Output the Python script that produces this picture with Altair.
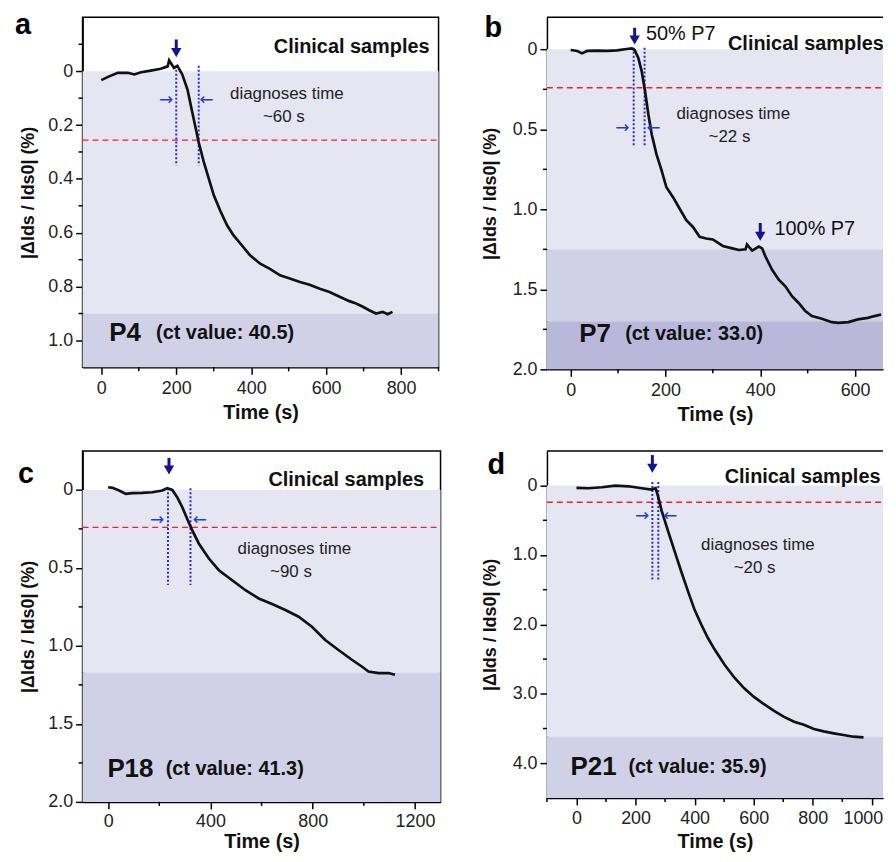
import altair as alt
import pandas as pd

FONT = "Liberation Sans"
YTITLE = "|ΔIds / Ids0| (%)"

# ---------------- panel a ----------------
a_time = [0, 18, 44, 71, 88, 106, 132, 159, 177, 181, 194, 203, 216, 230, 243, 260, 274, 287, 300, 318,
          336, 353, 371, 397, 424, 450, 477, 503, 530, 556, 583, 609, 636, 662, 680, 698, 715, 733, 751, 764, 777]
a_val = [0.033, 0.021, 0.006, 0.006, 0.012, 0.004, -0.002, -0.009, -0.018, -0.04, -0.012, -0.02, 0.012, 0.068,
         0.154, 0.265, 0.34, 0.40, 0.46, 0.52, 0.573, 0.61, 0.64, 0.684, 0.715, 0.734, 0.758, 0.77, 0.783, 0.793,
         0.808, 0.82, 0.838, 0.854, 0.863, 0.875, 0.888, 0.9, 0.894, 0.903, 0.894]

# ---------------- panel b ----------------
b_time = [0, 14, 24, 35, 56, 77, 98, 118, 129, 135, 143, 150, 157, 164, 171, 181, 192, 202, 216, 230, 244, 258,
          272, 286, 300, 321, 341, 355, 369, 372, 383, 397, 404, 411, 425, 439, 453, 467, 481, 495, 509, 530, 551,
          565, 586, 606, 627, 641, 655]
b_val = [0.004, 0.01, 0.025, 0.01, 0.008, 0.01, 0.006, -0.002, -0.006, 0.004, 0.056, 0.138, 0.262, 0.407, 0.531,
         0.655, 0.758, 0.862, 0.924, 0.996, 1.068, 1.11, 1.171, 1.182, 1.188, 1.229, 1.244, 1.254, 1.25, 1.22,
         1.258, 1.233, 1.244, 1.295, 1.378, 1.44, 1.481, 1.543, 1.585, 1.636, 1.667, 1.684, 1.705, 1.709, 1.705,
         1.688, 1.678, 1.667, 1.657]

# ---------------- panel c ----------------
c_time = [0, 17, 43, 69, 95, 134, 173, 212, 231, 251, 270, 290, 309, 329, 355, 394, 433, 485, 537, 589, 641,
          693, 745, 797, 849, 901, 953, 992, 1018, 1057, 1096, 1122]
c_val = [-0.017, -0.013, 0.004, 0.026, 0.021, 0.019, 0.015, 0.004, -0.011, 0.0, 0.047, 0.111, 0.185, 0.26, 0.345,
         0.44, 0.515, 0.579, 0.643, 0.696, 0.732, 0.77, 0.813, 0.877, 0.962, 1.026, 1.089, 1.132, 1.164, 1.174,
         1.174, 1.185]

# ---------------- panel d ----------------
d_time = [0, 41, 86, 131, 176, 221, 254, 268, 277, 288, 311, 333, 355, 378, 400, 423, 445, 468, 501, 535, 568,
          601, 635, 669, 703, 737, 770, 804, 837, 871, 904, 938, 972]
d_val = [0.033, 0.038, 0.024, 0.0, 0.01, 0.038, 0.057, 0.038, 0.167, 0.358, 0.668, 0.955, 1.241, 1.527, 1.79,
         2.005, 2.196, 2.363, 2.578, 2.768, 2.921, 3.045, 3.15, 3.246, 3.332, 3.403, 3.446, 3.508, 3.542, 3.57,
         3.594, 3.618, 3.628]

# shaded bands (value ranges) and their colours
a_bands = [(0.0, 0.9), (0.9, 1.1)]
b_bands = [(0.0, 1.25), (1.25, 1.7), (1.7, 2.0)]
c_bands = [(0.0, 1.17), (1.17, 2.0)]
d_bands = [(0.0, 3.62), (3.62, 4.5)]
band_colors = ["#E6E6F2", "#D0D0E6", "#B9B8DB"]

# thresholds (red dashed) and detection windows (blue dotted)
thresholds = {"a": 0.256, "b": 0.24, "c": 0.24, "d": 0.24}
windows = {"a": (200, 260), "b": (133, 156), "c": (234, 322), "d": (257, 277)}

# injection arrows: (time, top, shaft end, head centre)
a_inject = [(200, -0.118, -0.078, -0.069)]
b_inject = [(135, -0.135, -0.068, -0.058), (400, 1.085, 1.155, 1.168)]
c_inject = [(238, -0.205, -0.142, -0.128)]
d_inject = [(257, -0.44, -0.285, -0.25)]

diag_text = {"a": "~60 s", "b": "~22 s", "c": "~90 s", "d": "~20 s"}
patients = {"a": ("P4", "(ct value: 40.5)"), "b": ("P7", "(ct value: 33.0)"),
            "c": ("P18", "(ct value: 41.3)"), "d": ("P21", "(ct value: 35.9)")}


def one(**kw):
    return pd.DataFrame({k: [v] for k, v in kw.items()})


def panel(key, t, v, W, H, xdom, ydom, xmaj, xmin, ymaj, ymin, bands, win_span, arr_v, arr_t,
          inject, clin, diag_pos, pat_pos, letter_xy, closed=True, ytpad=10, extra=None,
          xlp=5, xtp=5, last_flush=None):
    xs = alt.Scale(domain=xdom, nice=False, zero=False)
    ys = alt.Scale(domain=ydom, reverse=True, nice=False, zero=False)
    xkw = dict(values=xmaj, title="Time (s)", format="d", grid=False, labelPadding=xlp, titlePadding=xtp)
    if last_flush is not None:
        test = "datum.value == %d" % last_flush
        xkw["labelAlign"] = {"condition": {"test": test, "value": "right"}, "value": "center"}
        xkw["labelOffset"] = {"condition": {"test": test, "value": 11}, "value": 0}
    xax = alt.Axis(**xkw)
    yax = alt.Axis(values=ymaj, title=YTITLE, grid=False, labelPadding=3, titlePadding=ytpad,
                   titleFontSize=18,
                   labelExpr="datum.value == 0 ? '0' : format(datum.value, '.1f')")

    def X(f):
        return alt.X(f, scale=xs, axis=xax)

    def Y(f):
        return alt.Y(f, scale=ys, axis=yax)

    def txt(tt, vv, s, size, weight="normal", align="left", color="#111", font=FONT, clip=False):
        df = pd.DataFrame({"t": tt, "v": vv, "s": s})
        return alt.Chart(df).mark_text(fontSize=size, fontWeight=weight, align=align, baseline="middle",
                                       font=font, color=color, clip=clip).encode(
            x=X("t:Q"), y=Y("v:Q"), text="s:N")

    layers = []
    cols = band_colors if len(bands) == 3 else band_colors[:2]
    bdf = pd.DataFrame({"v": [b[0] for b in bands], "v1": [b[1] for b in bands], "c": cols})
    layers.append(alt.Chart(bdf).mark_rect().encode(
        y=Y("v:Q"), y2="v1:Q", x=alt.value(0), x2=alt.value(W), color=alt.Color("c:N", scale=None)))
    cdf = pd.DataFrame({"t": t, "v": v})
    curve = alt.Chart(cdf).mark_line(color="#111", strokeWidth=2.7).encode(x=X("t:Q"), y=Y("v:Q"))
    # minor ticks
    layers.append(alt.Chart(pd.DataFrame({"v": ymin})).mark_rule(color="black", strokeWidth=1.5).encode(
        y=Y("v:Q"), x=alt.value(-4), x2=alt.value(0)))
    layers.append(alt.Chart(pd.DataFrame({"t": xmin})).mark_rule(color="black", strokeWidth=1.5).encode(
        x=X("t:Q"), y=alt.value(H), y2=alt.value(H + 4)))
    # threshold
    layers.append(alt.Chart(one(v=thresholds[key])).mark_rule(color="#E8262A", strokeWidth=1.3,
                                                               strokeDash=[6, 4]).encode(
        y=Y("v:Q"), x=alt.value(0), x2=alt.value(W)))
    # window lines
    w0, w1 = windows[key]
    wdf = pd.DataFrame({"t": [w0, w1], "v": [win_span[0]] * 2, "v1": [win_span[1]] * 2})
    layers.append(alt.Chart(wdf).mark_rule(color="#1F2FE0", strokeWidth=2, strokeDash=[2, 2]).encode(
        x=X("t:Q"), y=Y("v:Q"), y2="v1:Q"))
    if not closed:
        layers.append(alt.Chart(one(a=1)).mark_rule(color="black", strokeWidth=1.5).encode(
            x=alt.value(0), x2=alt.value(W), y=alt.value(0)))
    layers.append(curve)
    # horizontal arrows
    layers.append(txt(arr_t, [arr_v, arr_v], ["→", "←"], 17, align="center", color="#1F3FD0",
                      font="DejaVu Sans"))
    # injection arrows (shaft + head)
    idf = pd.DataFrame({"t": [p[0] for p in inject], "v": [p[1] for p in inject],
                        "v1": [p[2] for p in inject], "vh": [p[3] for p in inject]})
    layers.append(alt.Chart(idf).mark_rule(color="#14148C", strokeWidth=3).encode(
        x=X("t:Q"), y=Y("v:Q"), y2="v1:Q"))
    layers.append(alt.Chart(idf).mark_point(shape="triangle-down", filled=True, size=110, opacity=1,
                                            color="#14148C").encode(x=X("t:Q"), y=Y("vh:Q")))
    # texts
    layers.append(txt([clin[0]], [clin[1]], ["Clinical samples"], 20, weight="bold", align=clin[2],
                      clip=not closed))
    layers.append(txt([diag_pos[0], diag_pos[2]], [diag_pos[1], diag_pos[3]],
                      ["diagnoses time", diag_text[key]], 17, align="center", color="#222"))
    layers.append(txt([pat_pos[0]], [pat_pos[2]], [patients[key][0]], 26, weight="bold"))
    layers.append(txt([pat_pos[1]], [pat_pos[2]], [patients[key][1]], 20, weight="bold"))
    if extra is not None:
        layers.append(txt(extra[0], extra[1], extra[2], 20, color="#111"))
    layers.append(alt.Chart(one(s=key)).mark_text(fontSize=29, fontWeight="bold", font=FONT, align="center",
                                                  baseline="alphabetic", color="black").encode(
        x=alt.value(letter_xy[0]), y=alt.value(letter_xy[1]), text="s:N"))
    view = alt.ViewBackground(stroke="black" if closed else "transparent", strokeWidth=1.5)
    return alt.layer(*layers).properties(width=W, height=H, view=view)


pa = panel("a", a_time, a_val, 358, 352, [-50, 900], [-0.2, 1.1], [0, 200, 400, 600, 800],
           [100, 300, 500, 700, 900], [0, 0.2, 0.4, 0.6, 0.8, 1.0], [-0.1, 0.1, 0.3, 0.5, 0.7, 0.9],
           a_bands, (-0.02, 0.35), 0.108, [173, 281], a_inject, (876, -0.09, "right"),
           (495, 0.084, 487, 0.169), (21, 146, 0.973), (-60, 17))

pb = panel("b", b_time, b_val, 338, 354, [-50, 659], [-0.2, 2.0], [0, 200, 400, 600], [100, 300, 500],
           [0, 0.5, 1.0, 1.5, 2.0], [0.25, 0.75, 1.25, 1.75], b_bands, (-0.01, 0.61), 0.49, [109, 175],
           b_inject, (332, -0.031, "left"), (343, 0.406, 335, 0.548), (18, 115, 1.778),
           (-54, 20), closed=False, ytpad=13,
           extra=([159, 430], [-0.098, 1.126], ["50% P7", "100% P7"]))

pc = panel("c", c_time, c_val, 360, 353, [-100, 1300], [-0.25, 2.0], [0, 400, 800, 1200], [200, 600, 1000],
           [0, 0.5, 1.0, 1.5, 2.0], [0.25, 0.75, 1.25, 1.75], c_bands, (-0.01, 0.61), 0.19, [191, 359],
           c_inject, (1236, -0.064, "right"), (728, 0.377, 715, 0.526), (-3, 225, 1.79), (-57, 32),
           xlp=4, xtp=1)

pd_ = panel("d", d_time, d_val, 338, 349, [-100, 1038], [-0.5, 4.5], [0, 200, 400, 600, 800, 1000],
            [-100, 100, 300, 500, 700, 900], [0, 1, 2, 3, 4], [0.5, 1.5, 2.5, 3.5], d_bands, (-0.05, 1.38),
            0.44, [222, 318], d_inject, (502, -0.13, "left"), (614, 0.86, 603, 1.19), (-20, 176, 4.05),
            (-51, 23), closed=False, ytpad=13, xlp=5, xtp=4, last_flush=1000)

chart = alt.concat(
    pa, pb, pc, pd_, columns=2, bounds="flush", spacing={"row": 82, "column": 107}
).properties(
    padding={"left": 6, "top": 0, "right": 0, "bottom": 0}
).configure_axis(
    labelFont=FONT, labelFontSize=18, labelColor="#222", titleFont=FONT, titleFontSize=20,
    titleFontWeight="bold", titleColor="#111", domainColor="black", domainWidth=1.5, tickColor="black",
    tickWidth=1.5, tickSize=7
).configure_view(strokeWidth=1.5)

chart.save("out.html", embed_options={"renderer": "svg", "actions": False})
